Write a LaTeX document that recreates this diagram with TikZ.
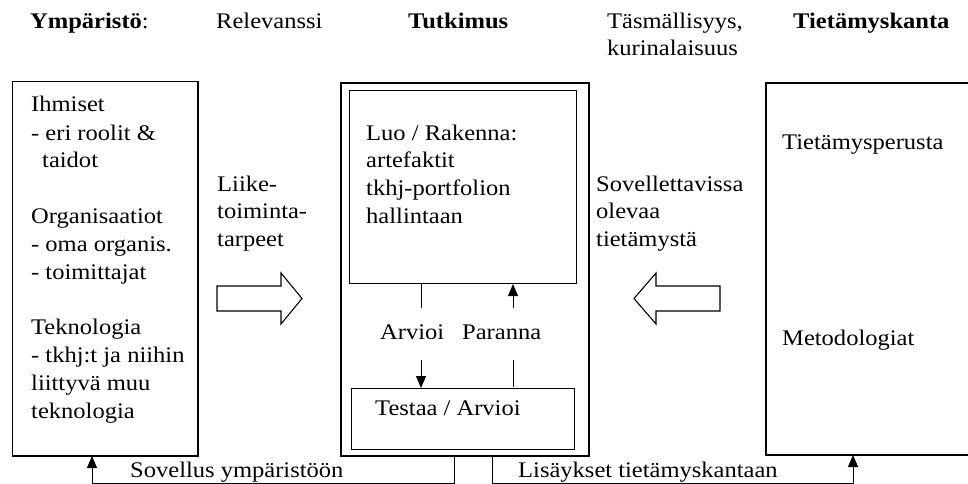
\documentclass[tikz,border=0pt]{standalone}
\usepackage{fontspec}
\setmainfont[FakeStretch=1.1]{Liberation Serif}
\usetikzlibrary{arrows.meta}
\begin{document}
\begin{tikzpicture}[x=1pt,y=-1pt,
  txt/.style={inner sep=0pt, anchor=base west, font=\fontsize{22.3}{27.8}\selectfont},
  frame/.style={draw, line width=1.3pt, inner sep=0pt},
  thinframe/.style={draw, line width=1pt, inner sep=0pt},
  link/.style={line width=1pt},
  tip/.style={-{Triangle[length=12pt,width=10pt]}},
  blockarrow/.style={draw, line width=1.1pt, fill=white, line join=miter}]
\useasboundingbox (0,0) rectangle (968,484);

% column headings
\node[txt] (hEnv) at (30,29) {\textbf{Ympäristö}:};
\node[txt] (hRel) at (216,29) {Relevanssi};
\node[txt] (hRes) at (408,29) {\textbf{Tutkimus}};
\node[txt] (hRig) at (607,29) {Täsmällisyys,};
\node[txt] (hRig2) at (607,56) {kurinalaisuus};
\node[txt] (hKB) at (793,29) {\textbf{Tietämyskanta}};

% environment box
\draw[frame] (12.5,81.5) rectangle (198,456);
\coordinate (envS) at (92,456);
\node[txt] (e1) at (31,112) {Ihmiset};
\node[txt] (e2) at (31,140) {- eri roolit \&};
\node[txt] (e3) at (42,167) {taidot};
\node[txt] (e4) at (31,223) {Organisaatiot};
\node[txt] (e5) at (31,251) {- oma organis.};
\node[txt] (e6) at (31,279) {- toimittajat};
\node[txt] (e7) at (31,334.5) {Teknologia};
\node[txt] (e8) at (31,362) {- tkhj:t ja niihin};
\node[txt] (e9) at (31,390) {liittyvä muu};
\node[txt] (e10) at (31,418) {teknologia};

% research: outer frame and the two inner boxes
\draw[frame] (341,83) rectangle (589,456);
\draw[thinframe] (349,91) rectangle (576,283);
\draw[thinframe] (351,388) rectangle (574,449);
\node[txt] (b1) at (366,140) {Luo / Rakenna:};
\node[txt] (b2) at (366,167) {artefaktit};
\node[txt] (b3) at (366,195) {tkhj-portfolion};
\node[txt] (b4) at (366,223) {hallintaan};
\node[txt] (t1) at (375,415) {Testaa / Arvioi};
\node[txt] (lEval) at (380,339) {Arvioi};
\node[txt] (lImp) at (462,339) {Paranna};

% build -> evaluate loop
\coordinate (a1) at (421,284);
\coordinate (a2) at (421,308);
\coordinate (a3) at (421,360);
\coordinate (a4) at (421,388);
\coordinate (p1) at (513,387);
\coordinate (p2) at (513,360);
\coordinate (p3) at (513,308);
\coordinate (p4) at (513,284);
\draw[link] (a1) -- (a2);
\draw[link,tip] (a3) -- (a4);
\draw[link] (p1) -- (p2);
\draw[link,tip] (p3) -- (p4);

% knowledge base box
\draw[frame] (766,83) rectangle (990,455);
\coordinate (kbS) at (853,455);
\node[txt] (k1) at (782,149) {Tietämysperusta};
\node[txt] (k2) at (782,345) {Metodologiat};

% block arrows with their labels
\draw[blockarrow] (217,286) -- (281,286) -- (281,273) -- (302,298.5) -- (281,324) -- (281,311) -- (217,311) -- cycle;
\node[txt] (n1) at (217,191) {Liike-};
\node[txt] (n2) at (217,218.5) {toiminta-};
\node[txt] (n3) at (217,246) {tarpeet};
\draw[blockarrow] (720,286) -- (656,286) -- (656,273) -- (634,298.5) -- (656,324) -- (656,311) -- (720,311) -- cycle;
\node[txt] (s1) at (596,191) {Sovellettavissa};
\node[txt] (s2) at (596,218.5) {olevaa};
\node[txt] (s3) at (596,246) {tietämystä};

% feedback to environment and knowledge base
\coordinate (fL) at (454.5,456);
\coordinate (fR) at (492,456);
\draw[link,tip] (fL) -- (454.5,483.5) -- (92,483.5) -- (envS);
\draw[link,tip] (fR) -- (492,483.5) -- (853,483.5) -- (kbS);
\node[txt] (fb1) at (130,477) {Sovellus ympäristöön};
\node[txt] (fb2) at (518,477) {Lisäykset tietämyskantaan};
\end{tikzpicture}
\end{document}
